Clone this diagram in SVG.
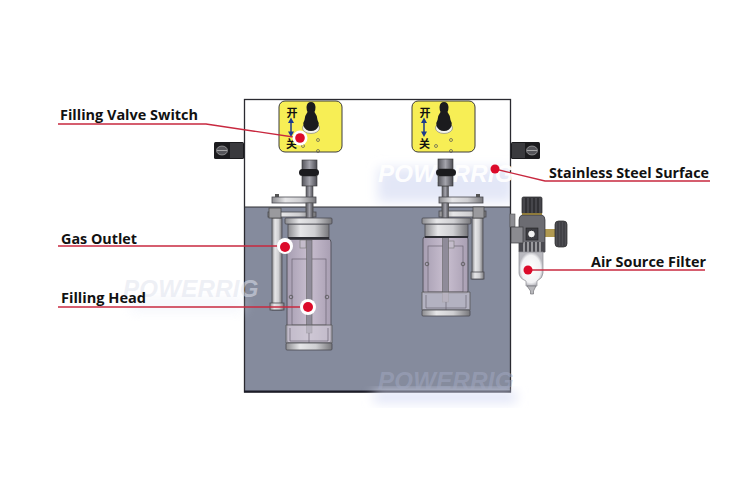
<svg xmlns="http://www.w3.org/2000/svg" width="755" height="479" viewBox="0 0 755 479">
<defs>
<linearGradient id="metal" x1="0" x2="1" y1="0" y2="0"><stop offset="0" stop-color="#8c8c90"/><stop offset=".3" stop-color="#e6e6e8"/><stop offset=".65" stop-color="#cfcfd2"/><stop offset="1" stop-color="#77777b"/></linearGradient>
<linearGradient id="dark" x1="0" x2="1" y1="0" y2="0"><stop offset="0" stop-color="#55555c"/><stop offset=".5" stop-color="#a4a4ac"/><stop offset="1" stop-color="#4d4d54"/></linearGradient>
<linearGradient id="glass" x1="0" x2="1" y1="0" y2="0"><stop offset="0" stop-color="#a79eb2"/><stop offset=".5" stop-color="#c9bfd0"/><stop offset="1" stop-color="#a99fb3"/></linearGradient>
<filter id="soft" x="-20%" y="-60%" width="140%" height="220%"><feGaussianBlur stdDeviation="6"/></filter>
<radialGradient id="bowl"><stop offset="0" stop-color="#ffffff"/><stop offset=".8" stop-color="#f2f2f4"/><stop offset="1" stop-color="#b9b9bf"/></radialGradient>
<clipPath id="upper"><rect x="245" y="100" width="265" height="107"/></clipPath>
</defs>
<style>
.lbl{font:700 14px "Open Sans","Liberation Sans",sans-serif;fill:#111}
.wm{font:italic 700 24px "Liberation Sans",sans-serif;letter-spacing:.3px}
.cn{font:700 11px "Noto Sans CJK SC",sans-serif;fill:#111}
.ln{stroke:#c8283f;stroke-width:1.400;fill:none}
.m{fill:url(#metal);stroke:#4a4a50;stroke-width:.8}
.s{fill:url(#dark);stroke:#555;stroke-width:.6}
.g{fill:url(#glass);stroke:#55555e;stroke-width:1}
.d{fill:url(#dark);stroke:#333;stroke-width:.6}
.dot{fill:#dc0a2a}
.ring{fill:#fff}
.y{fill:#f7ee55;stroke:#3c3c3c;stroke-width:1}
.bk{fill:#1b1b1e}
.thin{stroke:#6b6472;stroke-width:.7;fill:none}
.h{fill:none;stroke:#555;stroke-width:.7}
</style>
<rect width="755" height="479" fill="#fff"/>
<g id="cabinet">
<rect x="244" y="100" width="266" height="107" fill="#fff"/>
<g clip-path="url(#upper)"><rect x="378" y="168" width="135" height="34" fill="#e3e7f7" filter="url(#soft)"/></g>
<rect x="244" y="207" width="266" height="185" fill="#858b9d"/>
<rect x="244.500" y="99.500" width="266" height="292.500" fill="none" stroke="#2a2a30" stroke-width="1.300"/>
<line x1="244" y1="391.500" x2="511" y2="391.500" stroke="#1c1c28" stroke-width="1.800"/>
<line x1="244" y1="207" x2="510" y2="207" stroke="#2e2e32" stroke-width="1"/>
</g>
<g id="watermark-glow">
<rect x="130" y="298" width="114" height="14" fill="#e6eaf8" opacity=".4" filter="url(#soft)"/>
<rect x="374" y="392" width="142" height="10" fill="#dde1f6" filter="url(#soft)"/>
</g>
<g id="switch-left">
<rect class="y" x="279" y="101" width="63" height="51" rx="6"/>
<text class="cn" x="286.500" y="117">开</text>
<line x1="291" y1="120" x2="291" y2="134" stroke="#1c3a8c" stroke-width="1.500"/>
<path d="M291 117.500l-3 5.500h6zM291 137l-3-5.500h6z" fill="#1c3a8c"/>
<text class="cn" x="286" y="148">关</text>
<ellipse cx="311" cy="128" rx="8.500" ry="5.500" fill="#f4f4ec" stroke="#777" stroke-width=".6"/>
<path class="bk" d="M311 102q4 0 4.500 5 0 3-1 5 3 4 3 8 2 3 1 6-2 5-7.500 5t-7.500-5q-1-3 1-6 0-4 3-8-1-2-1-5 .5-5 4.500-5z"/>
<circle class="h" cx="318" cy="140" r="1.500"/>
<circle class="h" cx="303" cy="146" r="1.500"/>
<circle class="h" cx="318" cy="151" r="1.500"/>
</g>
<g id="switch-right">
<rect class="y" x="412" y="101" width="63" height="51" rx="6"/>
<text class="cn" x="419.500" y="117">开</text>
<line x1="424" y1="120" x2="424" y2="134" stroke="#1c3a8c" stroke-width="1.500"/>
<path d="M424 117.500l-3 5.500h6zM424 137l-3-5.500h6z" fill="#1c3a8c"/>
<text class="cn" x="419" y="148">关</text>
<ellipse cx="444" cy="128" rx="8.500" ry="5.500" fill="#f4f4ec" stroke="#777" stroke-width=".6"/>
<path class="bk" d="M444 102q4 0 4.500 5 0 3-1 5 3 4 3 8 2 3 1 6-2 5-7.500 5t-7.500-5q-1-3 1-6 0-4 3-8-1-2-1-5 .5-5 4.500-5z"/>
<circle class="h" cx="451" cy="140" r="1.500"/>
<circle class="h" cx="436" cy="146" r="1.500"/>
<circle class="h" cx="451" cy="151" r="1.500"/>
</g>
<g id="bracket-left">
<rect class="bk" x="214" y="142" width="30" height="17" rx="1.500"/>
<rect x="230" y="143" width="13" height="15" fill="#3a3a3e"/>
<ellipse cx="222" cy="150.500" rx="5.500" ry="4.500" fill="#55555a" stroke="#ccc" stroke-width=".5"/>
<line x1="217" y1="150.500" x2="227" y2="150.500" stroke="#bbb" stroke-width=".8"/>
</g>
<g id="bracket-right">
<rect class="bk" x="511" y="142" width="29" height="17" rx="1.500"/>
<rect x="512" y="143" width="13" height="15" fill="#3a3a3e"/>
<ellipse cx="532" cy="150.500" rx="5.500" ry="4.500" fill="#55555a" stroke="#ccc" stroke-width=".5"/>
<line x1="527" y1="150.500" x2="537" y2="150.500" stroke="#bbb" stroke-width=".8"/>
</g>
<g id="watermarks">
<text class="wm" x="378" y="182" fill="#fff" fill-opacity=".95">POWERRIG</text>
<text class="wm" x="123" y="297" fill="#dfe3ee" fill-opacity=".55">POWERRIG</text>
<text class="wm" x="378" y="389" fill="#a0a7bf" fill-opacity=".55">POWERRIG</text>
</g>
<g id="valve-left">
<rect class="s" x="306" y="185" width="7" height="35"/>
<rect class="d" x="302" y="160" width="15" height="10"/>
<rect class="d" x="302" y="176" width="15" height="10"/>
<rect class="bk" x="299" y="169" width="20" height="7" rx="3.500"/>
<rect class="m" x="272" y="218" width="10" height="92"/>
<rect class="m" x="270" y="303" width="14" height="7"/>
<rect x="275" y="194" width="4" height="3" fill="#555"/>
<rect class="m" x="272" y="197" width="44" height="6"/>
<rect class="m" x="268" y="212" width="48" height="5"/>
<rect x="269" y="208" width="12" height="10" fill="#9a9a9e" stroke="#444" stroke-width=".7"/>
<rect class="s" x="306" y="203" width="7" height="15"/>
<rect class="g" x="287" y="239" width="44" height="104" rx="3"/>
<rect class="thin" x="292" y="259" width="34" height="66"/>
<rect x="300" y="240" width="6" height="8" fill="#c4bccb" stroke="#777" stroke-width=".6"/>
<rect x="306.500" y="240" width="5.500" height="93" fill="#8f8b99" stroke="#666" stroke-width=".6"/>
<circle cx="291" cy="297" r="1.800" fill="none" stroke="#555" stroke-width=".8"/>
<circle cx="327" cy="297" r="1.800" fill="none" stroke="#555" stroke-width=".8"/>
<path d="M286 325h46v18h-46z" fill="#d2cdd8" fill-opacity=".6" stroke="#555" stroke-width=".8"/>
<path class="thin" d="M290 328v13h38v-13M309 333v10"/>
<rect class="m" x="286" y="343" width="46" height="7" rx="1"/>
<rect class="m" x="288" y="224" width="41" height="15"/>
<rect x="288" y="237" width="41" height="2.500" fill="#2e2e34"/>
<rect class="m" x="285" y="218" width="47" height="6" rx="1"/>
</g>
<g id="valve-right">
<rect class="s" x="442" y="186" width="6.500" height="32"/>
<rect class="d" x="438" y="159" width="15" height="10"/>
<rect class="d" x="438" y="176" width="15" height="10"/>
<rect class="bk" x="436" y="169" width="20" height="7" rx="3.500"/>
<rect class="m" x="472" y="218" width="11" height="61"/>
<rect class="m" x="471" y="272" width="13" height="7"/>
<rect x="476" y="194" width="4" height="3" fill="#555"/>
<rect class="m" x="439" y="197" width="44" height="6"/>
<rect class="m" x="439" y="211" width="47" height="6"/>
<rect x="473" y="207" width="11" height="11" fill="#9a9a9e" stroke="#444" stroke-width=".7"/>
<rect class="s" x="442" y="203" width="6.500" height="15"/>
<rect class="g" x="423" y="237" width="45" height="56" rx="2"/>
<rect class="thin" x="428" y="246" width="35" height="46"/>
<rect x="448" y="241" width="6" height="7" fill="#c4bccb" stroke="#777" stroke-width=".6"/>
<rect x="442.500" y="237" width="6" height="65" fill="#8f8b99" stroke="#666" stroke-width=".6"/>
<circle cx="427" cy="264" r="1.800" fill="none" stroke="#555" stroke-width=".8"/>
<circle cx="463" cy="264" r="1.800" fill="none" stroke="#555" stroke-width=".8"/>
<path d="M422 292h48v18h-48z" fill="#d2cdd8" fill-opacity=".6" stroke="#555" stroke-width=".8"/>
<path class="thin" d="M426 295v13h40v-13M446 302v8"/>
<rect class="m" x="422" y="310" width="48" height="6" rx="1"/>
<rect class="m" x="425" y="224" width="43" height="13"/>
<rect x="425" y="236" width="43" height="2" fill="#2e2e34"/>
<rect class="m" x="422" y="218" width="49" height="6" rx="1"/>
</g>
<g id="air-source-filter">
<rect x="510" y="214" width="5" height="13" fill="#8d8d92" stroke="#555" stroke-width=".6"/>
<path d="M545 229h10v8h-10z" fill="#b19a52"/>
<rect x="555" y="221" width="12" height="26" rx="3.500" fill="#4f4f54" stroke="#222" stroke-width=".7"/>
<path d="M558 222v24M561 222v24M564 222v24" stroke="#2a2a2e" stroke-width=".7"/>
<rect x="522" y="197" width="20" height="17" rx="1.500" fill="#46464b" stroke="#1f1f22" stroke-width=".7"/>
<path d="M526 198v15M530 198v15M534 198v15M538 198v15" stroke="#1d1d20" stroke-width="1"/>
<path d="M519 252q0-3 0-32q0-4 3-5h20q3 1 3 5v32z" fill="#6c6c72" stroke="#2c2c30" stroke-width=".7"/>
<rect x="522" y="213" width="20" height="2" fill="#8f7b3c"/>
<path d="M519 242h26v10h-26z" fill="#4a4a50"/>
<path d="M524 242v10M528 242v10M532 242v10M536 242v10M540 242v10" stroke="#e8e8ea" stroke-width="1"/>
<rect x="511" y="227" width="12" height="16" fill="#8b8b90" stroke="#3c3c40" stroke-width=".7"/>
<rect x="526" y="228" width="12" height="12" fill="#3e3e44" stroke="#222" stroke-width=".6"/>
<circle cx="531.500" cy="234" r="3.800" fill="#f2f2f2" stroke="#1b1b1e" stroke-width=".8"/>
<path d="M519 252h24v21q0 5-6 8v5h-11v-5q-7-3-7-8z" fill="url(#bowl)" stroke="#8f8f95" stroke-width=".7"/>
<path d="M527 286h9l-2.500 5v3h-3v-3z" fill="#b8b8bc" stroke="#66666c" stroke-width=".6"/>
</g>
<g id="connectors">
<path class="ln" d="M58 124H206L300 138"/>
<path class="ln" d="M58 246H285"/>
<path class="ln" d="M58 307H308"/>
<path class="ln" d="M495 169L545 181H710"/>
<path class="ln" d="M528 270H705"/>
</g>
<g id="markers">
<circle class="ring" cx="300" cy="138" r="7.500"/><circle class="dot" cx="300" cy="138" r="4.800"/>
<circle class="ring" cx="285" cy="246" r="8"/><circle class="dot" cx="285" cy="247" r="5"/>
<circle class="ring" cx="308" cy="307" r="8"/><circle class="dot" cx="308" cy="307" r="5"/>
<circle class="dot" cx="495" cy="169" r="4.500"/>
<circle class="dot" cx="528" cy="270" r="4.500"/>
</g>
<g id="labels">
<text class="lbl" x="60" y="120" textLength="138" lengthAdjust="spacingAndGlyphs">Filling Valve Switch</text>
<text class="lbl" x="61" y="244" textLength="76" lengthAdjust="spacingAndGlyphs">Gas Outlet</text>
<text class="lbl" x="61" y="303" textLength="85" lengthAdjust="spacingAndGlyphs">Filling Head</text>
<text class="lbl" x="549" y="178" textLength="160" lengthAdjust="spacingAndGlyphs">Stainless Steel Surface</text>
<text class="lbl" x="591" y="267" textLength="115" lengthAdjust="spacingAndGlyphs">Air Source Filter</text>
</g>
</svg>
